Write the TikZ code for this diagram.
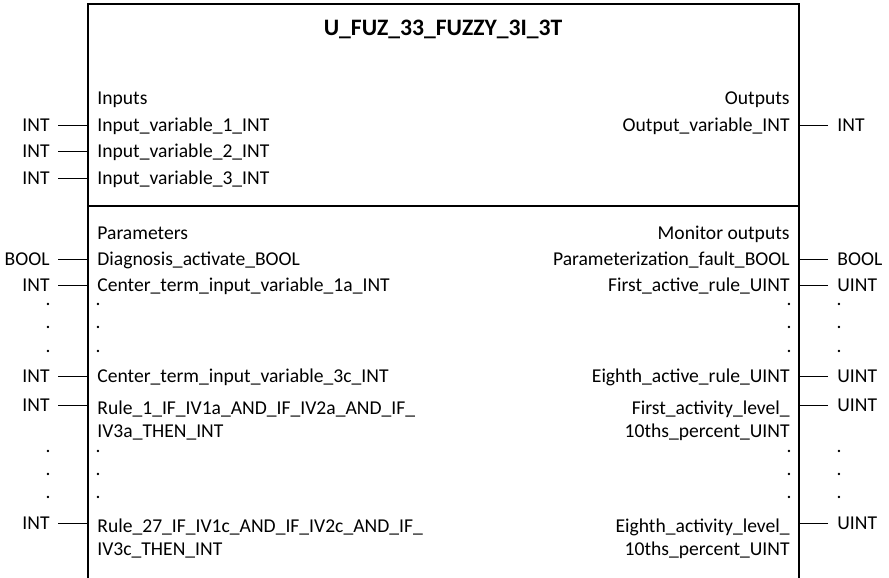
\documentclass[tikz,border=0pt]{standalone}
\usepackage{fontspec}
\setmainfont{Carlito}
\usetikzlibrary{positioning, calc}
\tikzset{
    font=\fontsize{9.8}{11.5}\selectfont,
    blocktitle/.style={font=\fontsize{11.8}{14}\selectfont\bfseries, inner sep=0pt},
    pinleft/.style={anchor=mid west, inner sep=0pt},
    pinright/.style={anchor=mid east, inner sep=0pt},
    typeleft/.style={anchor=mid east, inner xsep=4pt, inner ysep=0pt},
    typeright/.style={anchor=mid west, inner xsep=4.5pt, inner ysep=0pt},
    ellipsis/.style={inner sep=0pt, anchor=base},
    pinline/.style={line width=0.85pt},
    frame/.style={line width=1pt}
}

\begin{document}
\begin{tikzpicture}[x=0.5pt, y=-0.5pt]

    \useasboundingbox (0,0) rectangle (889,578);

    % block outline, open at the bottom
    \coordinate (tl) at (88,4);
    \coordinate (tr) at (799,4);
    \coordinate (bl) at (88,578);
    \coordinate (br) at (799,578);
    \coordinate (divl) at (88,206);
    \coordinate (divr) at (799,206);
    \draw [frame] (bl) -- (tl) -- (tr) -- (br);
    \draw [frame] (divl) -- (divr);

    \node (title) [blocktitle] at (443,29) {U\_FUZ\_33\_FUZZY\_3I\_3T};

    % inputs / outputs
    \node (inputs)  [pinleft]  at (97,100)  {Inputs};
    \node (outputs) [pinright] at (790,100) {Outputs};
    \node (in1) [pinleft] at (97,127) {Input\_variable\_1\_INT};
    \node (in2) [pinleft] at (97,153) {Input\_variable\_2\_INT};
    \node (in3) [pinleft] at (97,180) {Input\_variable\_3\_INT};
    \node (out1) [pinright] at (790,127) {Output\_variable\_INT};

    % parameters / monitor outputs
    \node (params)  [pinleft]  at (97,235)  {Parameters};
    \node (monitor) [pinright] at (790,235) {Monitor outputs};
    \node (diag)  [pinleft] at (97,261) {Diagnosis\_activate\_BOOL};
    \node (ct1a)  [pinleft] at (97,287) {Center\_term\_input\_variable\_1a\_INT};
    \node (ct3c)  [pinleft] at (97,378) {Center\_term\_input\_variable\_3c\_INT};
    \node (rule1) [pinleft, align=left, anchor=north west] at (97,400)
        {Rule\_1\_IF\_IV1a\_AND\_IF\_IV2a\_AND\_IF\_\\IV3a\_THEN\_INT};
    \node (rule27) [pinleft, align=left, anchor=north west] at (97,518)
        {Rule\_27\_IF\_IV1c\_AND\_IF\_IV2c\_AND\_IF\_\\IV3c\_THEN\_INT};

    \node (pfault) [pinright] at (790,261) {Parameterization\_fault\_BOOL};
    \node (rule1st) [pinright] at (790,287) {First\_active\_rule\_UINT};
    \node (rule8th) [pinright] at (790,378) {Eighth\_active\_rule\_UINT};
    \node (lvl1st) [pinright, align=right, anchor=north east] at (790,400)
        {First\_activity\_level\_\\10ths\_percent\_UINT};
    \node (lvl8th) [pinright, align=right, anchor=north east] at (790,518)
        {Eighth\_activity\_level\_\\10ths\_percent\_UINT};

    % left pins
    \node (tin1)    [typeleft] at (58,127) {INT};
    \node (tin2)    [typeleft] at (58,153) {INT};
    \node (tin3)    [typeleft] at (58,180) {INT};
    \node (tdiag)   [typeleft] at (58,261) {BOOL};
    \node (tct1a)   [typeleft] at (58,287) {INT};
    \node (tct3c)   [typeleft] at (58,378) {INT};
    \node (trule1)  [typeleft] at (58,407) {INT};
    \node (trule27) [typeleft] at (58,525) {INT};
    \foreach \n in {tin1, tin2, tin3, tdiag, tct1a, tct3c, trule1, trule27}
        \draw [pinline] (\n.east) -- (\n.east -| tl);

    % right pins
    \node (tout1)    [typeright] at (828,127) {INT};
    \node (tpfault)  [typeright] at (828,261) {BOOL};
    \node (trule1st) [typeright] at (828,287) {UINT};
    \node (trule8th) [typeright] at (828,378) {UINT};
    \node (tlvl1st)  [typeright] at (828,407) {UINT};
    \node (tlvl8th)  [typeright] at (828,525) {UINT};
    \foreach \n in {tout1, tpfault, trule1st, trule8th, tlvl1st, tlvl8th}
        \draw [pinline] (\n.west) -- (\n.west -| tr);

    % ellipsis dots
    \foreach \y in {305, 328, 352, 452, 475, 498} {
        \node [ellipsis] at (48,\y)  {.};
        \node [ellipsis] at (98,\y)  {.};
        \node [ellipsis] at (789,\y) {.};
        \node [ellipsis] at (839,\y) {.};
    }

\end{tikzpicture}
\end{document}
